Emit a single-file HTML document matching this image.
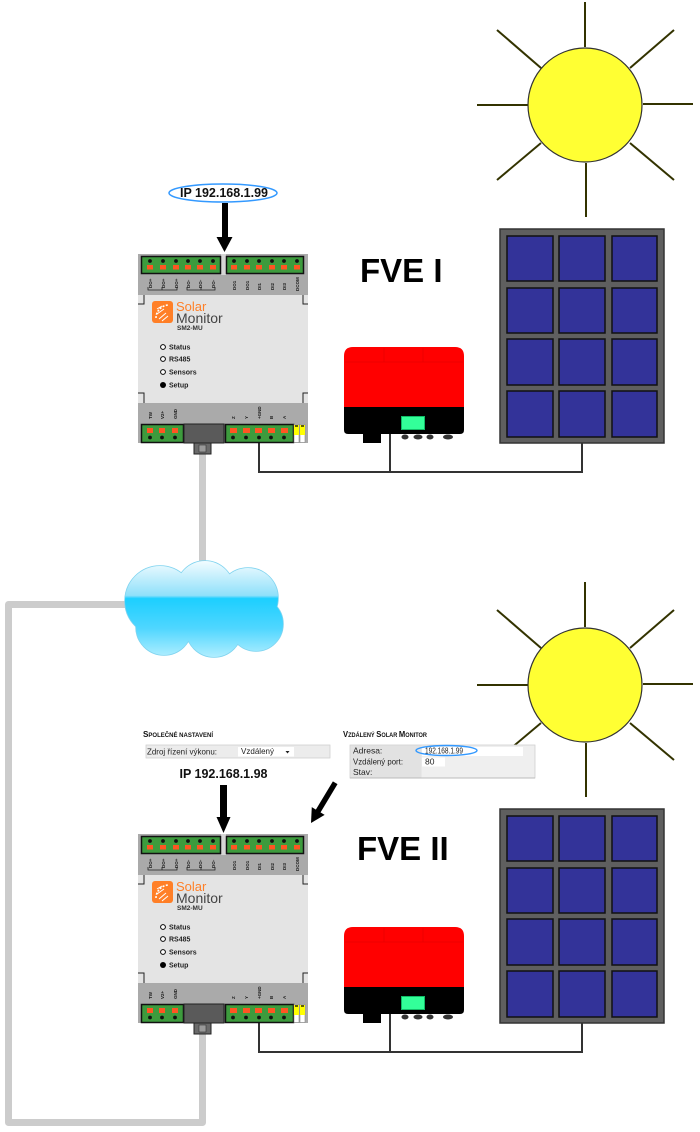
<!DOCTYPE html>
<html><head><meta charset="utf-8"><style>
html,body{margin:0;padding:0;background:#fff;}
svg{display:block;}
text{font-family:"Liberation Sans",sans-serif;}
</style></head><body>
<svg width="700" height="1132" viewBox="0 0 700 1132" xmlns="http://www.w3.org/2000/svg">
<defs>
<linearGradient id="cg" x1="0" y1="561" x2="0" y2="657" gradientUnits="userSpaceOnUse">
<stop offset="0" stop-color="#f2fcff"/>
<stop offset="0.36" stop-color="#8fe0fa"/>
<stop offset="0.39" stop-color="#1ccfff"/>
<stop offset="0.7" stop-color="#4fd6ff"/>
<stop offset="1" stop-color="#b0eeff"/>
</linearGradient>
</defs>

<!-- gray network cables -->
<path d="M202.5 452 L202.5 570" stroke="#cccccc" stroke-width="7" fill="none"/>
<path d="M130 604.5 L8.5 604.5 L8.5 1122.5 L202.5 1122.5 L202.5 1032" stroke="#cccccc" stroke-width="7" fill="none" stroke-linejoin="round"/>

<!-- cloud -->
<g stroke="#7fd3ef" stroke-width="1.5" fill="url(#cg)">
<circle cx="160" cy="601" r="35"/><circle cx="205" cy="590" r="29"/><circle cx="248" cy="598" r="30"/>
<circle cx="256" cy="624" r="27"/><circle cx="214" cy="629" r="28"/><circle cx="164" cy="627" r="28"/>
</g>
<g fill="url(#cg)">
<circle cx="160" cy="601" r="35"/><circle cx="205" cy="590" r="29"/><circle cx="248" cy="598" r="30"/>
<circle cx="256" cy="624" r="27"/><circle cx="214" cy="629" r="28"/><circle cx="164" cy="627" r="28"/>
<ellipse cx="208" cy="612" rx="62" ry="30"/>
</g>

<!-- ===== SCENE 1 ===== -->
<!-- sun -->
<g stroke="#333300" stroke-width="2">
<line x1="585" y1="2" x2="585" y2="47"/><line x1="586" y1="163" x2="586" y2="217"/>
<line x1="477" y1="105" x2="528" y2="105"/><line x1="643" y1="104" x2="693" y2="104"/>
<line x1="497" y1="30" x2="541" y2="68"/><line x1="674" y1="30" x2="630" y2="68"/>
<line x1="497" y1="180" x2="541" y2="143"/><line x1="674" y1="180" x2="630" y2="143"/>
</g>
<circle cx="585" cy="105" r="57" fill="#ffff33" stroke="#333" stroke-width="1.2"/>

<!-- panel -->
<rect x="500" y="229" width="164" height="214" fill="#5f5f5f" stroke="#333" stroke-width="1.5"/>
<g fill="#333399" stroke="#111" stroke-width="1.5">
<rect x="507" y="236" width="46" height="45"/><rect x="559" y="236" width="46" height="45"/><rect x="612" y="236" width="45" height="45"/>
<rect x="507" y="288" width="46" height="45"/><rect x="559" y="288" width="46" height="45"/><rect x="612" y="288" width="45" height="45"/>
<rect x="507" y="339" width="46" height="46"/><rect x="559" y="339" width="46" height="46"/><rect x="612" y="339" width="45" height="46"/>
<rect x="507" y="391" width="46" height="46"/><rect x="559" y="391" width="46" height="46"/><rect x="612" y="391" width="45" height="46"/>
</g>

<!-- wires -->
<path d="M259 443 V472 H582 V443 M390 434 V472" stroke="#333" stroke-width="2" fill="none"/>

<!-- inverter -->
<path d="M344 356 Q344 347 353 347 L455 347 Q464 347 464 356 L464 407 L344 407 Z" fill="#ff0000"/>
<path d="M384 348 V362 M423 348 V362 M345 362 H463" stroke="#e80000" stroke-width="0.8"/>
<path d="M344 407 L464 407 L464 430 Q464 434 460 434 L348 434 Q344 434 344 430 Z" fill="#000"/>
<rect x="401.5" y="416.5" width="23" height="13" fill="#33ff99" stroke="#1b6" stroke-width="1"/>
<rect x="363" y="433" width="18" height="10" fill="#000"/>
<g fill="#333"><ellipse cx="405" cy="437" rx="3.5" ry="2.5"/><ellipse cx="418" cy="437" rx="4.5" ry="2.5"/><ellipse cx="430" cy="437" rx="3.5" ry="2.5"/><ellipse cx="448" cy="437" rx="5" ry="2.5"/></g>

<text x="360" y="282" font-size="33" font-weight="bold" fill="#000">FVE I</text>

<!-- IP label -->
<ellipse cx="223" cy="193" rx="54" ry="9" fill="none" stroke="#3399ff" stroke-width="1.5"/>
<text x="224" y="197" font-size="12.5" font-weight="bold" text-anchor="middle" fill="#111">IP 192.168.1.99</text>
<rect x="222" y="203" width="6" height="36" fill="#000"/>
<polygon points="216.5,237 232.5,237 224.5,252" fill="#000"/>

<!-- device 1 -->
<g>
<rect x="138" y="254" width="170" height="189" fill="#e4e4e4"/>
<rect x="138" y="254" width="170" height="41" fill="#aaaaaa"/>
<rect x="138" y="403" width="170" height="40" fill="#aaaaaa"/>
<rect x="221" y="254" width="5" height="21" fill="#d6d6d6"/>
<rect x="141.5" y="256.5" width="79" height="17" fill="#3d9b3d" stroke="#111" stroke-width="1.5"/>
<rect x="226.5" y="256.5" width="77" height="17" fill="#3d9b3d" stroke="#111" stroke-width="1.5"/>
<g fill="#111"><circle cx="150" cy="261" r="1.9"/><circle cx="163" cy="261" r="1.9"/><circle cx="176" cy="261" r="1.9"/><circle cx="188" cy="261" r="1.9"/><circle cx="200" cy="261" r="1.9"/><circle cx="213" cy="261" r="1.9"/><circle cx="234" cy="261" r="1.9"/><circle cx="247" cy="261" r="1.9"/><circle cx="259" cy="261" r="1.9"/><circle cx="272" cy="261" r="1.9"/><circle cx="284" cy="261" r="1.9"/><circle cx="297" cy="261" r="1.9"/></g>
<g fill="#ff5522"><rect x="147" y="265" width="6" height="4.5"/><rect x="160" y="265" width="6" height="4.5"/><rect x="173" y="265" width="6" height="4.5"/><rect x="185" y="265" width="6" height="4.5"/><rect x="197" y="265" width="6" height="4.5"/><rect x="210" y="265" width="6" height="4.5"/><rect x="231" y="265" width="6" height="4.5"/><rect x="244" y="265" width="6" height="4.5"/><rect x="256" y="265" width="6" height="4.5"/><rect x="269" y="265" width="6" height="4.5"/><rect x="281" y="265" width="6" height="4.5"/><rect x="294" y="265" width="6" height="4.5"/></g>
<g font-size="4.5" font-weight="bold" fill="#222">
<text transform="translate(152,288) rotate(-90)">DO+</text><text transform="translate(165,288) rotate(-90)">DO+</text><text transform="translate(178,288) rotate(-90)">DO+</text>
<text transform="translate(190,288) rotate(-90)">DO-</text><text transform="translate(202,288) rotate(-90)">DO-</text><text transform="translate(215,288) rotate(-90)">DO-</text>
<text transform="translate(236,290) rotate(-90)">DO1</text><text transform="translate(249,290) rotate(-90)">DO1</text><text transform="translate(261,290) rotate(-90)">DI1</text>
<text transform="translate(274,290) rotate(-90)">DI2</text><text transform="translate(286,290) rotate(-90)">DI3</text><text transform="translate(299,291) rotate(-90)">DCOM</text>
</g>
<path d="M148 287 V290 H177 V287 M162 287 V290 M187 287 V290 H215 V287 M201 287 V290" stroke="#222" stroke-width="0.8" fill="none"/>
<path d="M138 304 H144 V295 M308 304 H303 V295 M138 393 H144 V403 M308 393 H303 V403" stroke="#222" stroke-width="1" fill="none"/>
<rect x="152" y="301" width="21" height="22" rx="3" fill="#ff7f27"/>
<path d="M156 318 A13 13 0 0 1 169 305" stroke="#fff" stroke-width="1.6" fill="none" stroke-dasharray="2 1.4"/>
<path d="M159 319 L166 313 M162 321 L168 316 M157 314 L164 309 M157 309 L162 306" stroke="#fff" stroke-width="1"/>
<text x="176" y="311" font-size="13" fill="#ff7f27">Solar</text>
<text x="176" y="323" font-size="14" fill="#444">Monitor</text>
<text x="177" y="330" font-size="6.5" font-weight="bold" fill="#333">SM2-MU</text>
<g stroke="#000" stroke-width="1" fill="#fff"><circle cx="163" cy="347" r="2.4"/><circle cx="163" cy="359" r="2.4"/><circle cx="163" cy="372" r="2.4"/></g>
<circle cx="163" cy="385" r="3" fill="#000"/>
<g font-size="7" font-weight="bold" fill="#222">
<text x="169" y="349.5">Status</text><text x="169" y="361.5">RS485</text><text x="169" y="374.5">Sensors</text><text x="169" y="387.5">Setup</text>
</g>
<g font-size="4.5" font-weight="bold" fill="#222">
<text transform="translate(152,419) rotate(-90)">TW</text><text transform="translate(164,419) rotate(-90)">V2+</text><text transform="translate(177,419) rotate(-90)">GND</text>
<text transform="translate(235,419) rotate(-90)">Z</text><text transform="translate(248,419) rotate(-90)">Y</text><text transform="translate(261,419) rotate(-90)">+GND</text>
<text transform="translate(273,419) rotate(-90)">B</text><text transform="translate(286,419) rotate(-90)">A</text>
</g>
<rect x="141.5" y="424.5" width="42" height="18" fill="#3d9b3d" stroke="#111" stroke-width="1.5"/>
<rect x="184" y="424" width="40" height="19" fill="#5a5a5a" stroke="#222" stroke-width="1"/>
<rect x="225.5" y="424.5" width="68" height="18" fill="#3d9b3d" stroke="#111" stroke-width="1.5"/>
<g fill="#ff5522"><rect x="147" y="428" width="6" height="5"/><rect x="159" y="428" width="6" height="5"/><rect x="172" y="428" width="6" height="5"/><rect x="230" y="428" width="7" height="5"/><rect x="243" y="428" width="7" height="5"/><rect x="255" y="428" width="7" height="5"/><rect x="268" y="428" width="7" height="5"/><rect x="281" y="428" width="7" height="5"/></g>
<g fill="#111"><circle cx="150" cy="437.5" r="1.9"/><circle cx="162" cy="437.5" r="1.9"/><circle cx="175" cy="437.5" r="1.9"/><circle cx="233" cy="437.5" r="1.9"/><circle cx="246" cy="437.5" r="1.9"/><circle cx="259" cy="437.5" r="1.9"/><circle cx="271" cy="437.5" r="1.9"/><circle cx="284" cy="437.5" r="1.9"/></g>
<rect x="294" y="424.5" width="5" height="18" fill="#fff" stroke="#888" stroke-width="0.6"/>
<rect x="300" y="424.5" width="5" height="18" fill="#fff" stroke="#888" stroke-width="0.6"/>
<rect x="294" y="425" width="5" height="10" fill="#ffff00"/><rect x="300" y="425" width="5" height="10" fill="#ffff00"/>
<path d="M295 426 h3 M301 426 h3" stroke="#000" stroke-width="1.2"/>
<rect x="194" y="443" width="17" height="11" fill="#6a6a6a" stroke="#222" stroke-width="1"/>
<rect x="199" y="445" width="7" height="7" fill="#999" stroke="#333" stroke-width="0.6"/>
</g>

<!-- ===== SCENE 2 ===== -->
<g transform="translate(0,580)">
<g stroke="#333300" stroke-width="2">
<line x1="585" y1="2" x2="585" y2="47"/><line x1="586" y1="163" x2="586" y2="217"/>
<line x1="477" y1="105" x2="528" y2="105"/><line x1="643" y1="104" x2="693" y2="104"/>
<line x1="497" y1="30" x2="541" y2="68"/><line x1="674" y1="30" x2="630" y2="68"/>
<line x1="497" y1="180" x2="541" y2="143"/><line x1="674" y1="180" x2="630" y2="143"/>
</g>
<circle cx="585" cy="105" r="57" fill="#ffff33" stroke="#333" stroke-width="1.2"/>
<rect x="500" y="229" width="164" height="214" fill="#5f5f5f" stroke="#333" stroke-width="1.5"/>
<g fill="#333399" stroke="#111" stroke-width="1.5">
<rect x="507" y="236" width="46" height="45"/><rect x="559" y="236" width="46" height="45"/><rect x="612" y="236" width="45" height="45"/>
<rect x="507" y="288" width="46" height="45"/><rect x="559" y="288" width="46" height="45"/><rect x="612" y="288" width="45" height="45"/>
<rect x="507" y="339" width="46" height="46"/><rect x="559" y="339" width="46" height="46"/><rect x="612" y="339" width="45" height="46"/>
<rect x="507" y="391" width="46" height="46"/><rect x="559" y="391" width="46" height="46"/><rect x="612" y="391" width="45" height="46"/>
</g>
<path d="M259 443 V472 H582 V443 M390 434 V472" stroke="#333" stroke-width="2" fill="none"/>
<path d="M344 356 Q344 347 353 347 L455 347 Q464 347 464 356 L464 407 L344 407 Z" fill="#ff0000"/>
<path d="M384 348 V362 M423 348 V362 M345 362 H463" stroke="#e80000" stroke-width="0.8"/>
<path d="M344 407 L464 407 L464 430 Q464 434 460 434 L348 434 Q344 434 344 430 Z" fill="#000"/>
<rect x="401.5" y="416.5" width="23" height="13" fill="#33ff99" stroke="#1b6" stroke-width="1"/>
<rect x="363" y="433" width="18" height="10" fill="#000"/>
<g fill="#333"><ellipse cx="405" cy="437" rx="3.5" ry="2.5"/><ellipse cx="418" cy="437" rx="4.5" ry="2.5"/><ellipse cx="430" cy="437" rx="3.5" ry="2.5"/><ellipse cx="448" cy="437" rx="5" ry="2.5"/></g>

<g>
<rect x="138" y="254" width="170" height="189" fill="#e4e4e4"/>
<rect x="138" y="254" width="170" height="41" fill="#aaaaaa"/>
<rect x="138" y="403" width="170" height="40" fill="#aaaaaa"/>
<rect x="221" y="254" width="5" height="21" fill="#d6d6d6"/>
<rect x="141.5" y="256.5" width="79" height="17" fill="#3d9b3d" stroke="#111" stroke-width="1.5"/>
<rect x="226.5" y="256.5" width="77" height="17" fill="#3d9b3d" stroke="#111" stroke-width="1.5"/>
<g fill="#111"><circle cx="150" cy="261" r="1.9"/><circle cx="163" cy="261" r="1.9"/><circle cx="176" cy="261" r="1.9"/><circle cx="188" cy="261" r="1.9"/><circle cx="200" cy="261" r="1.9"/><circle cx="213" cy="261" r="1.9"/><circle cx="234" cy="261" r="1.9"/><circle cx="247" cy="261" r="1.9"/><circle cx="259" cy="261" r="1.9"/><circle cx="272" cy="261" r="1.9"/><circle cx="284" cy="261" r="1.9"/><circle cx="297" cy="261" r="1.9"/></g>
<g fill="#ff5522"><rect x="147" y="265" width="6" height="4.5"/><rect x="160" y="265" width="6" height="4.5"/><rect x="173" y="265" width="6" height="4.5"/><rect x="185" y="265" width="6" height="4.5"/><rect x="197" y="265" width="6" height="4.5"/><rect x="210" y="265" width="6" height="4.5"/><rect x="231" y="265" width="6" height="4.5"/><rect x="244" y="265" width="6" height="4.5"/><rect x="256" y="265" width="6" height="4.5"/><rect x="269" y="265" width="6" height="4.5"/><rect x="281" y="265" width="6" height="4.5"/><rect x="294" y="265" width="6" height="4.5"/></g>
<g font-size="4.5" font-weight="bold" fill="#222">
<text transform="translate(152,288) rotate(-90)">DO+</text><text transform="translate(165,288) rotate(-90)">DO+</text><text transform="translate(178,288) rotate(-90)">DO+</text>
<text transform="translate(190,288) rotate(-90)">DO-</text><text transform="translate(202,288) rotate(-90)">DO-</text><text transform="translate(215,288) rotate(-90)">DO-</text>
<text transform="translate(236,290) rotate(-90)">DO1</text><text transform="translate(249,290) rotate(-90)">DO1</text><text transform="translate(261,290) rotate(-90)">DI1</text>
<text transform="translate(274,290) rotate(-90)">DI2</text><text transform="translate(286,290) rotate(-90)">DI3</text><text transform="translate(299,291) rotate(-90)">DCOM</text>
</g>
<path d="M148 287 V290 H177 V287 M162 287 V290 M187 287 V290 H215 V287 M201 287 V290" stroke="#222" stroke-width="0.8" fill="none"/>
<path d="M138 304 H144 V295 M308 304 H303 V295 M138 393 H144 V403 M308 393 H303 V403" stroke="#222" stroke-width="1" fill="none"/>
<rect x="152" y="301" width="21" height="22" rx="3" fill="#ff7f27"/>
<path d="M156 318 A13 13 0 0 1 169 305" stroke="#fff" stroke-width="1.6" fill="none" stroke-dasharray="2 1.4"/>
<path d="M159 319 L166 313 M162 321 L168 316 M157 314 L164 309 M157 309 L162 306" stroke="#fff" stroke-width="1"/>
<text x="176" y="311" font-size="13" fill="#ff7f27">Solar</text>
<text x="176" y="323" font-size="14" fill="#444">Monitor</text>
<text x="177" y="330" font-size="6.5" font-weight="bold" fill="#333">SM2-MU</text>
<g stroke="#000" stroke-width="1" fill="#fff"><circle cx="163" cy="347" r="2.4"/><circle cx="163" cy="359" r="2.4"/><circle cx="163" cy="372" r="2.4"/></g>
<circle cx="163" cy="385" r="3" fill="#000"/>
<g font-size="7" font-weight="bold" fill="#222">
<text x="169" y="349.5">Status</text><text x="169" y="361.5">RS485</text><text x="169" y="374.5">Sensors</text><text x="169" y="387.5">Setup</text>
</g>
<g font-size="4.5" font-weight="bold" fill="#222">
<text transform="translate(152,419) rotate(-90)">TW</text><text transform="translate(164,419) rotate(-90)">V2+</text><text transform="translate(177,419) rotate(-90)">GND</text>
<text transform="translate(235,419) rotate(-90)">Z</text><text transform="translate(248,419) rotate(-90)">Y</text><text transform="translate(261,419) rotate(-90)">+GND</text>
<text transform="translate(273,419) rotate(-90)">B</text><text transform="translate(286,419) rotate(-90)">A</text>
</g>
<rect x="141.5" y="424.5" width="42" height="18" fill="#3d9b3d" stroke="#111" stroke-width="1.5"/>
<rect x="184" y="424" width="40" height="19" fill="#5a5a5a" stroke="#222" stroke-width="1"/>
<rect x="225.5" y="424.5" width="68" height="18" fill="#3d9b3d" stroke="#111" stroke-width="1.5"/>
<g fill="#ff5522"><rect x="147" y="428" width="6" height="5"/><rect x="159" y="428" width="6" height="5"/><rect x="172" y="428" width="6" height="5"/><rect x="230" y="428" width="7" height="5"/><rect x="243" y="428" width="7" height="5"/><rect x="255" y="428" width="7" height="5"/><rect x="268" y="428" width="7" height="5"/><rect x="281" y="428" width="7" height="5"/></g>
<g fill="#111"><circle cx="150" cy="437.5" r="1.9"/><circle cx="162" cy="437.5" r="1.9"/><circle cx="175" cy="437.5" r="1.9"/><circle cx="233" cy="437.5" r="1.9"/><circle cx="246" cy="437.5" r="1.9"/><circle cx="259" cy="437.5" r="1.9"/><circle cx="271" cy="437.5" r="1.9"/><circle cx="284" cy="437.5" r="1.9"/></g>
<rect x="294" y="424.5" width="5" height="18" fill="#fff" stroke="#888" stroke-width="0.6"/>
<rect x="300" y="424.5" width="5" height="18" fill="#fff" stroke="#888" stroke-width="0.6"/>
<rect x="294" y="425" width="5" height="10" fill="#ffff00"/><rect x="300" y="425" width="5" height="10" fill="#ffff00"/>
<path d="M295 426 h3 M301 426 h3" stroke="#000" stroke-width="1.2"/>
<rect x="194" y="443" width="17" height="11" fill="#6a6a6a" stroke="#222" stroke-width="1"/>
<rect x="199" y="445" width="7" height="7" fill="#999" stroke="#333" stroke-width="0.6"/>
</g>
</g>

<text x="357" y="860" font-size="33" font-weight="bold" fill="#000">FVE II</text>

<!-- settings UI -->
<text x="143" y="737" font-weight="bold" fill="#111" textLength="70" lengthAdjust="spacingAndGlyphs"><tspan font-size="8.5">S</tspan><tspan font-size="6.3">POLEČNÉ NASTAVENÍ</tspan></text>
<rect x="146" y="745" width="184" height="13" fill="#ececec" stroke="#d0d0d0" stroke-width="0.8"/>
<text x="147" y="754.5" font-size="8.5" fill="#222" textLength="70" lengthAdjust="spacingAndGlyphs">Zdroj řízení výkonu:</text>
<rect x="238" y="747" width="56" height="9.5" fill="#fff"/>
<text x="241" y="754" font-size="8.5" fill="#222" textLength="33" lengthAdjust="spacingAndGlyphs">Vzdálený</text>
<polygon points="285.5,751 289.5,751 287.5,753.5" fill="#222"/>

<text x="343" y="737" font-weight="bold" fill="#111" textLength="84" lengthAdjust="spacingAndGlyphs"><tspan font-size="8.5">V</tspan><tspan font-size="6.3">ZDÁLENÝ </tspan><tspan font-size="8.5">S</tspan><tspan font-size="6.3">OLAR </tspan><tspan font-size="8.5">M</tspan><tspan font-size="6.3">ONITOR</tspan></text>
<rect x="350" y="745" width="185" height="33" fill="#efefef" stroke="#d0d0d0" stroke-width="0.8"/>
<rect x="350.5" y="745.5" width="71" height="32" fill="#e2e2e2"/>
<rect x="422" y="747" width="101" height="9" fill="#fff"/>
<rect x="422" y="757.5" width="23" height="9" fill="#fff"/>
<line x1="350" y1="778" x2="535" y2="778" stroke="#bbb" stroke-width="1"/>
<g font-size="8.5" fill="#222">
<text x="353" y="753.5">Adresa:</text>
<text x="353" y="764.5" textLength="50" lengthAdjust="spacingAndGlyphs">Vzdálený port:</text>
<text x="353" y="775">Stav:</text>
<text x="425" y="753.5" textLength="38" lengthAdjust="spacingAndGlyphs">192.168.1.99</text>
<text x="425" y="764.5">80</text>
</g>
<ellipse cx="446.5" cy="750.5" rx="30.5" ry="5" fill="none" stroke="#3399ff" stroke-width="1.4"/>

<text x="223.5" y="778" font-size="12.5" font-weight="bold" text-anchor="middle" fill="#111">IP 192.168.1.98</text>
<rect x="220" y="785" width="7" height="34" fill="#000"/>
<polygon points="216.5,817 230.5,817 223.5,833" fill="#000"/>
<g transform="translate(311,823) rotate(121)">
<rect x="-47" y="-2.7" width="36" height="5.4" fill="#000"/>
<polygon points="-14,-7.5 0,0 -14,7.5" fill="#000"/>
</g>
</svg>
</body></html>
